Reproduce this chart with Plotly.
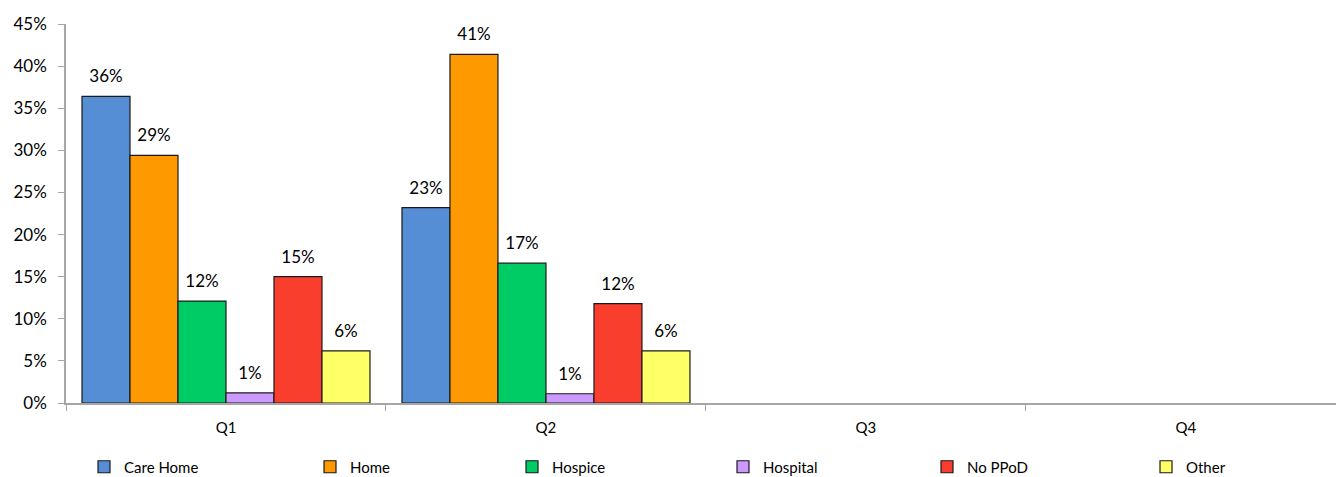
import plotly.graph_objects as go

quarters = ["Q1", "Q2", "Q3", "Q4"]
care_home = [0.364, 0.232, None, None]
home = [0.294, 0.414, None, None]
hospice = [0.121, 0.166, None, None]
hospital = [0.012, 0.011, None, None]
no_ppod = [0.150, 0.118, None, None]
other = [0.062, 0.062, None, None]

series = [
    ("Care Home", care_home, "#558ED5"),
    ("Home", home, "#FF9900"),
    ("Hospice", hospice, "#00CC66"),
    ("Hospital", hospital, "#CC99FF"),
    ("No PPoD", no_ppod, "#FA3E2E"),
    ("Other", other, "#FFFF66"),
]
legend_px = [84, 310, 512, 723, 927, 1146]

FONT = "Lato"
W, H = 1336, 477

fig = go.Figure()
for i, (name, vals, col) in enumerate(series):
    lg = "legend" if i == 0 else f"legend{i+1}"
    fig.add_trace(go.Bar(
        x=quarters, y=vals, name=name, legend=lg,
        marker=dict(color=col, line=dict(color="#1a1a1a", width=1.2)),
        offsetgroup=str(i),
    ))
for i, (name, vals, col) in enumerate(series):
    fig.add_trace(go.Scatter(
        x=quarters, y=vals, mode="markers+text", showlegend=False,
        text=[("%d%%" % round(v * 100)) if v is not None else "" for v in vals],
        textposition="top center",
        textfont=dict(family=FONT, size=17, color="#000000"),
        marker=dict(size=14, opacity=0),
        offsetgroup=str(i), cliponaxis=False, hoverinfo="skip",
    ))

layout_legends = {}
for i, px in enumerate(legend_px):
    key = "legend" if i == 0 else f"legend{i+1}"
    layout_legends[key] = dict(
        xref="container", yref="container",
        x=px / W, y=1 - 467 / H, xanchor="left", yanchor="middle",
        orientation="h", font=dict(family=FONT, size=15), itemwidth=30,
        bgcolor="rgba(0,0,0,0)",
    )

fig.update_layout(
    width=W, height=H,
    margin=dict(l=66, r=0, t=24, b=74),
    paper_bgcolor="white", plot_bgcolor="white",
    barmode="group", bargap=0.1, bargroupgap=0,
    scattermode="group", scattergap=0.1,
    font=dict(family=FONT, size=15, color="#000000"),
    showlegend=True,
    **layout_legends,
)
fig.update_xaxes(
    type="category", range=[-0.5, 3.469], automargin=False,
    showline=True, linecolor="#A6A6A6", linewidth=1.5,
    ticks="outside", tickson="boundaries", ticklen=6, tickcolor="#A6A6A6",
    ticklabelstandoff=10,
    showgrid=False, zeroline=False,
    tickfont=dict(family=FONT, size=15),
)
fig.update_yaxes(
    range=[0, 0.45], dtick=0.05, tickformat=".0%", automargin=False,
    showline=True, linecolor="#A6A6A6", linewidth=1.5,
    ticks="outside", ticklen=6, tickcolor="#A6A6A6",
    ticklabelstandoff=8,
    showgrid=False, zeroline=False,
    tickfont=dict(family=FONT, size=17),
)

fig.write_html("out.html", config={"displayModeBar": False},
               post_script="document.body.style.margin='0';document.body.style.overflow='hidden';")
